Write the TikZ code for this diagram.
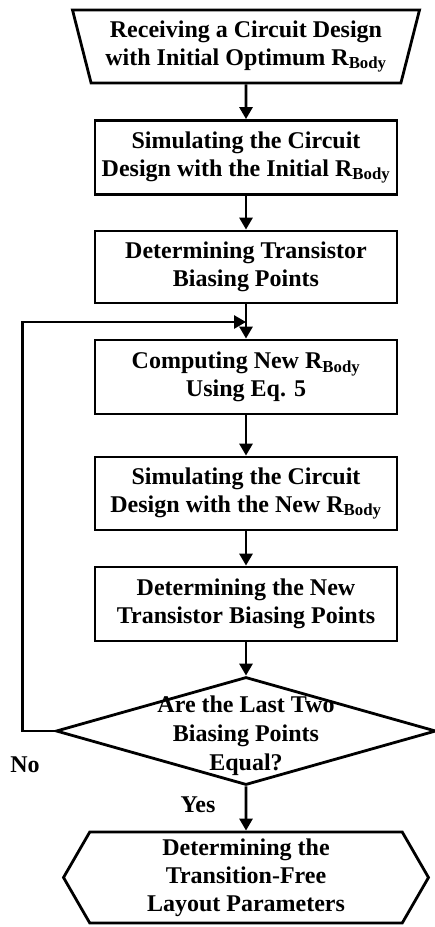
\documentclass[tikz,border=0pt]{standalone}
\usepackage{fontspec}
\setmainfont{Liberation Serif}
\usetikzlibrary{shapes.geometric,shapes.symbols,arrows.meta}

\tikzset{
  every node/.style={font=\fontsize{24}{28}\selectfont\bfseries, align=center},
  process/.style={draw, line width=2.8pt, minimum width=302pt, minimum height=74pt, inner sep=1pt},
  inputbox/.style={draw, line width=2.8pt, trapezium, shape border rotate=180,
    trapezium angle=71, trapezium stretches body, minimum width=347pt, minimum height=73pt, inner sep=1pt},
  decision/.style={draw, line width=2.8pt, diamond, minimum width=380pt, minimum height=108pt, inner sep=0pt},
  endbox/.style={draw, line width=2.8pt, signal, signal to=west and east, signal pointer angle=120,
    minimum width=365pt, minimum height=91pt, inner sep=1pt},
  arrow/.style={line width=2.8pt, -{Triangle[length=12pt,width=13pt]}}
}

\begin{document}
\begin{tikzpicture}[x=1pt,y=-1pt]
\useasboundingbox (0,0) rectangle (435,927);
% flow steps, top to bottom
\node[inputbox] (receive) at (246,46.5) {Receiving a Circuit Design\\with Initial Optimum R\textsubscript{Body}};
\node[process] (siminit) at (246,157.5) {Simulating the Circuit\\Design with the Initial R\textsubscript{Body}};
\node[process, minimum height=72pt] (biasinit) at (246,267) {Determining Transistor\\Biasing Points};
\node[process] (compute) at (246,377) {Computing New R\textsubscript{Body}\\Using Eq. 5};
\node[process, minimum height=73pt] (simnew) at (246,493.5) {Simulating the Circuit\\Design with the New R\textsubscript{Body}};
\node[process] (biasnew) at (246,604) {Determining the New\\Transistor Biasing Points};
\node[decision] (check) at (246,731) {\raisebox{-11pt}[0pt][0pt]{\makebox[0pt]{\renewcommand{\arraystretch}{1.04}\begin{tabular}{@{}c@{}}Are the Last Two\\Biasing Points\\Equal?\end{tabular}}}};
\node[endbox] (layout) at (246,877.5) {Determining the\\Transition-Free\\Layout Parameters};
\coordinate (join) at (246,322);

\draw[arrow] (receive) -- (siminit);
\draw[arrow] (siminit) -- (biasinit);
\draw[arrow] (biasinit) -- (compute);
\draw[arrow] (compute) -- (simnew);
\draw[arrow] (simnew) -- (biasnew);
\draw[arrow] (biasnew) -- (check);
\draw[arrow] (check) -- (layout);
% loop back when not equal
\draw[arrow] (check.west) -- ++(-32,0) |- (join);

\node (no) at (25,765) {No};
\node (yes) at (198,805) {Yes};
\end{tikzpicture}
\end{document}
